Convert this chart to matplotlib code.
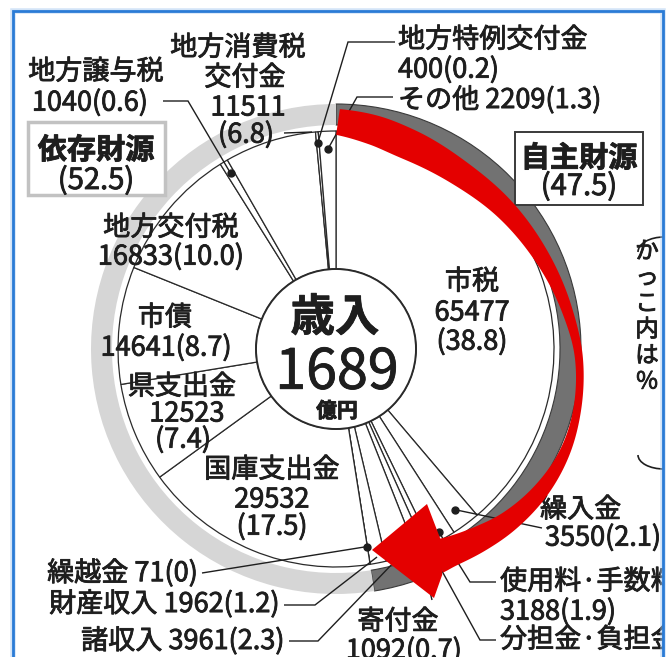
import numpy as np
import matplotlib
matplotlib.use("Agg")
import matplotlib.pyplot as plt
import matplotlib.patheffects as pe
from matplotlib.patches import Circle, Rectangle, Polygon, Arc
from matplotlib import font_manager

plt.rcParams['font.family'] = ['Noto Sans CJK JP', 'DejaVu Sans']

# ---------------- data ----------------
categories = ['市税', '繰入金', '使用料·手数料', '分担金·負担金', '寄付金', '諸収入', '財産収入', '繰越金',
              '国庫支出金', '県支出金', '市債', '地方交付税', '地方譲与税', '地方消費税交付金',
              '地方特例交付金', 'その他']
amounts = [65477, 3550, 3188, None, 1092, 3961, 1962, 71,
           29532, 12523, 14641, 16833, 1040, 11511, 400, 2209]
shares = [38.8, 2.1, 1.9, 0.5, 0.7, 2.3, 1.2, 0.0,
          17.5, 7.4, 8.7, 10.0, 0.6, 6.8, 0.2, 1.3]
group_names = ['自主財源', '依存財源']
group_shares = [47.5, 52.5]
total_label = '1689'
center_title = '歳入'
center_unit = '億円'
note_chars = ['か', 'っ', 'こ', '内', 'は', '%']


def pct(s):
    return '0' if s == 0 else f'{s:.1f}'


def val(i):
    return f'{amounts[i]}({pct(shares[i])})'


# ---------------- layout ----------------
W, H = 671, 657
FX0, FX1, FY0 = 12, 664, 10
INK = '#1e1e1e'
CX, CY = 336, 349          # pie centre (pixel)
R_OUT, R_IN = 218, 80
BAND_R, BAND_W = 245, 21

fig = plt.figure(figsize=(W / 100, H / 100), dpi=100)
fig.patch.set_facecolor('white')
ax = fig.add_axes([FX0 / W, 0, (FX1 - FX0) / W, (H - FY0) / H])


def P(x, y):
    return (x, H - y)


def polar_px(theta, r):
    t = np.deg2rad(theta)
    return (CX + r * np.sin(t), CY - r * np.cos(t))


def polar(theta, r):
    return P(*polar_px(theta, r))


cum = np.concatenate([[0], np.cumsum(shares)])
mids = (cum[:-1] + cum[1:]) / 2 * 3.6

# outer bands (自主 / 依存)
wb, _ = ax.pie(group_shares, radius=BAND_R, center=P(CX, CY), startangle=90, counterclock=False,
               colors=['#727272', '#d6d6d6'],
               wedgeprops=dict(width=BAND_W, linewidth=0, zorder=1))
wb[0].set_edgecolor('#3a3a3a')
wb[0].set_linewidth(0.8)

# main pie (ring)
ax.pie(shares, radius=R_OUT, center=P(CX, CY), startangle=90, counterclock=False,
       colors=['white'] * len(shares),
       wedgeprops=dict(width=R_OUT - R_IN, edgecolor='#2a2a2a', linewidth=0.9, zorder=2))
ax.add_patch(Circle(P(CX, CY), R_IN, fc='white', ec='#2a2a2a', lw=1.4, zorder=3))

ax.set_xlim(FX0, FX1)
ax.set_ylim(0, H - FY0)
ax.set_aspect('equal')
ax.set_axis_off()

STROKE = [pe.withStroke(linewidth=0.6, foreground=INK)]


def txt(x, y, s, size=19.5, ha='center', weight='normal', family=None, z=5):
    kw = {}
    if family is not None:
        kw['family'] = family
    ax.text(x, H - y, s, fontsize=size, ha=ha, va='center', fontweight=weight,
            color=INK, zorder=z, clip_on=True, path_effects=STROKE, **kw)


def line(pts, lw=1.0):
    xs = [p[0] for p in pts]
    ys = [p[1] for p in pts]
    ax.plot(xs, ys, color=INK, lw=lw, zorder=4, solid_capstyle='butt', solid_joinstyle='miter')


def dot(p):
    ax.plot([p[0]], [p[1]], 'o', ms=5, color=INK, zorder=4)


# ---------- labels & leaders ----------
# 地方譲与税
txt(96, 72, categories[12])
txt(90, 103, val(12))
d = polar(mids[12], 205)
line([P(163, 101), P(188, 101), d]); dot(d)

# 地方消費税交付金
txt(238, 48, '地方消費税')
txt(245, 78, '交付金')
txt(248, 108, str(amounts[13]))
txt(246, 135, f'({pct(shares[13])})')
line([P(284, 133), P(312, 132)])

# 地方特例交付金
txt(398, 40, categories[14], ha='left')
txt(398, 70, val(14), ha='left')
d = polar(mids[14], 207)
line([P(395, 42), P(348, 42), d]); dot(d)

# その他
txt(398, 100, f'{categories[15]} {val(15)}', ha='left')
d = polar(mids[15], 200)
line([P(393, 97), P(357, 97), d]); dot(d)

# group boxes
ax.add_patch(Rectangle(P(28, 195), 137, 73, fc='white', ec='#c2c2c2', lw=2.5, zorder=4.5))
txt(96, 150, group_names[1], 21, weight='bold')
txt(96, 181, f'({group_shares[1]})', 21)
ax.add_patch(Rectangle(P(515, 205), 128, 73, fc='white', ec='#3a3a3a', lw=1.4, zorder=4.5))
txt(579, 158, group_names[0], 21, weight='bold')
txt(579, 187, f'({group_shares[0]})', 21)

# labels inside ring
txt(171, 228, categories[11]); txt(171, 257, val(11))
txt(165, 318, categories[10]); txt(166, 348, val(10))
txt(182, 387, categories[9]); txt(187, 414, str(amounts[9])); txt(183, 440, f'({pct(shares[9])})')
txt(272, 470, categories[8]); txt(272, 500, str(amounts[8])); txt(272, 527, f'({pct(shares[8])})')
txt(472, 282, categories[0]); txt(472, 313, str(amounts[0])); txt(472, 342, f'({pct(shares[0])})')

# centre
names = {f.name for f in font_manager.fontManager.ttflist}
narrow = ['Liberation Sans Narrow', 'Noto Sans CJK JP'] if 'Liberation Sans Narrow' in names else ['Noto Sans CJK JP']
txt(335, 318, center_title, 32, weight='bold')
txt(337, 373, total_label, 48 if len(narrow) == 2 else 40, family=narrow)
txt(337, 411, center_unit, 15, weight='bold')

# right-bottom labels
txt(540, 510, categories[1], ha='left')
txt(545, 538, val(1), ha='left')
d = polar(mids[1], 200)
line([d, P(542, 528)]); dot(d)

txt(500, 582, categories[2], ha='left')
txt(500, 612, val(2), ha='left')
d = polar(mids[2], 210)
line([P(496, 582), P(470, 582), d]); dot(d)

txt(500, 640, categories[3], ha='left')
line([P(496, 640), P(480, 640), polar(mids[3], 214)])

txt(398, 622, categories[4])
txt(404, 651, val(4))
line([P(432, 600), polar(mids[4], 214)])

# left-bottom labels
txt(198, 573, f'{categories[7]} {val(7)}', ha='right')
d = polar(cum[7] * 3.6, 200)
line([P(202, 573), d]); dot(d)

txt(280, 604, f'{categories[6]} {val(6)}', ha='right')
line([P(284, 605), P(315, 605), polar(mids[6], 212)])

txt(285, 641, f'{categories[5]} {val(5)}', ha='right')
line([P(289, 641), P(318, 641), polar(mids[5], 216)])

# note "かっこ内は%" (vertical)
for k, ch in enumerate(note_chars):
    txt(647, 252 + 26 * k, ch, 17)
ax.add_patch(Arc(P(664, 252), 52, 30, theta1=90, theta2=180, color=INK, lw=1.2, zorder=4))
ax.add_patch(Arc(P(664, 455), 52, 28, theta1=180, theta2=270, color=INK, lw=1.2, zorder=4))

# ---------- red arrow (annotation), defined around the pie centre ----------
# (angle clockwise from top, centre radius, stroke width)
arrow_path = [(0.5, 227, 26), (10, 222, 30), (20, 217, 31), (35, 215, 26), (50, 219, 21),
              (65, 225, 16), (80, 234, 11), (92, 243, 8), (105, 249, 8), (115, 251, 11),
              (125, 249, 16), (135, 244, 21), (143, 238, 26), (150, 233, 30), (154, 231, 34)]


def catmull_rom(pts, n=24):
    pts = np.asarray(pts, float)
    pts = np.vstack([pts[0] - (pts[1] - pts[0]), pts, pts[-1] + (pts[-1] - pts[-2])])
    out = []
    for i in range(1, len(pts) - 2):
        p0, p1, p2, p3 = pts[i - 1], pts[i], pts[i + 1], pts[i + 2]
        t = np.linspace(0, 1, n, endpoint=False)[:, None]
        out.append(0.5 * ((2 * p1) + (-p0 + p2) * t + (2 * p0 - 5 * p1 + 4 * p2 - p3) * t ** 2
                          + (-p0 + 3 * p1 - 3 * p2 + p3) * t ** 3))
    out.append(pts[-2][None, :])
    return np.vstack(out)


c = catmull_rom(arrow_path)
th = np.deg2rad(c[:, 0])
cx = CX + c[:, 1] * np.sin(th)
cy = CY - c[:, 1] * np.cos(th)
xy = np.column_stack([cx, cy])
dxy = np.gradient(xy, axis=0)
dxy /= np.linalg.norm(dxy, axis=1, keepdims=True)
nrm = np.stack([-dxy[:, 1], dxy[:, 0]], axis=1)
left = xy + nrm * c[:, 2:3] / 2
right = xy - nrm * c[:, 2:3] / 2
shaft = np.vstack([left, right[::-1]])
shaft_d = np.column_stack([shaft[:, 0], H - shaft[:, 1]])
RED = '#e40000'
ax.add_patch(Polygon(shaft_d, closed=True, fc=RED, ec='none', zorder=6))
ex, ey = xy[-1]
head = [P(372, 550), P(427, 504), P(ex + 3, ey - 18), P(ex + 5, ey + 18), P(434, 598)]
ax.add_patch(Polygon(head, closed=True, fc=RED, ec='none', zorder=6))

# ---------- blue frame ----------
fx = [FX0 + 1, FX0 + 1, FX1 - 1, FX1 - 1]
fy = [0, H - FY0 - 1, H - FY0 - 1, 0]
ax.plot(fx, fy, color='#a9cbf0', lw=4, zorder=9, clip_on=False, alpha=0.5, solid_joinstyle='miter')
ax.plot(fx, fy, color='#2a7bd6', lw=2, zorder=10, clip_on=False, solid_joinstyle='miter')

fig.savefig('out.png', dpi=100, facecolor='white')
